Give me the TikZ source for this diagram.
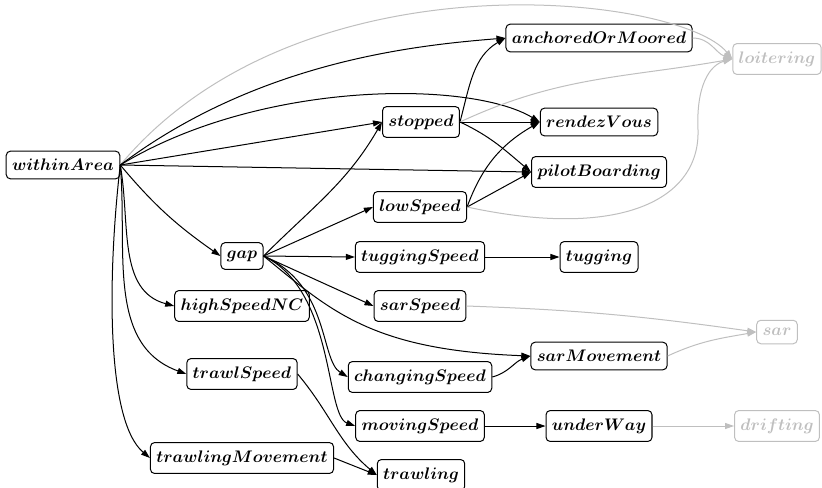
\documentclass[tikz,border=0pt]{standalone}
\usepackage{amsmath,bm}
\usetikzlibrary{arrows.meta}

\newcommand{\fl}[1]{$\bm{#1}$}

\begin{document}
\begin{tikzpicture}[
    x=0.021cm, y=-0.021cm,
    state/.style={rectangle, rounded corners=2.5pt, draw, line width=0.6pt,
        inner xsep=3.5pt, inner ysep=4.8pt, font=\normalsize},
    faded/.style={state, draw=black!25, text=black!25},
    arrow/.style={-{Triangle[length=5.4pt,width=3.6pt]}, line width=0.6pt},
    fadearrow/.style={arrow, color=black!25},
]
\useasboundingbox (0,0) rectangle (822,487);

% === Column 1 ===
\node[state] (within) at (63,165) {\fl{withinArea}};

% === Column 2 ===
\node[state] (gap) at (242,256) {\fl{gap}};
\node[state] (highNC) at (242,306) {\fl{highSpeedNC}};
\node[state] (trawlSp) at (242,374) {\fl{trawlSpeed}};
\node[state] (trawlMv) at (242,458) {\fl{trawlingMovement}};

% === Column 3 ===
\node[state] (stopped) at (421,122) {\fl{stopped}};
\node[state] (lowSp) at (420,207) {\fl{lowSpeed}};
\node[state] (tugSp) at (420,257) {\fl{tuggingSpeed}};
\node[state] (sarSp) at (420,306) {\fl{sarSpeed}};
\node[state] (changeSp) at (420,377) {\fl{changingSpeed}};
\node[state] (moveSp) at (420,426) {\fl{movingSpeed}};
\node[state] (trawling) at (421,475) {\fl{trawling}};

% === Column 4 ===
\node[state] (anchored) at (599,38) {\fl{anchoredOrMoored}};
\node[state] (rendez) at (599,122) {\fl{rendezVous}};
\node[state] (pilot) at (599,172) {\fl{pilotBoarding}};
\node[state] (tugging) at (599,257) {\fl{tugging}};
\node[state] (sarMv) at (599,356) {\fl{sarMovement}};
\node[state] (underway) at (599,426) {\fl{underWay}};

% === Column 5 (faded) ===
\node[faded] (loiter) at (777,59) {\fl{loitering}};
\node[faded] (sar) at (777,332) {\fl{sar}};
\node[faded] (drift) at (777,426) {\fl{drifting}};

% withinArea
\draw[fadearrow] (within.east) .. controls (300,-50) and (680,-5) .. (loiter.west);
\draw[arrow] (within.east) .. controls (260,60) and (420,45) .. (anchored.west);
\draw[arrow] (within.east) .. controls (260,80) and (470,80) .. (rendez.west);
\draw[arrow] (within.east) -- (stopped.west);
\draw[arrow] (within.east) -- (pilot.west);
\draw[arrow] (within.east) to[out=-50, in=145] (gap.west);
\draw[arrow] (within.east) to[out=-80, in=165] (highNC.west);
\draw[arrow] (within.east) to[out=-85, in=160] (trawlSp.west);
\draw[arrow] (within.east) .. controls (108,270) and (105,420) .. (trawlMv.west);

% gap
\draw[arrow] (gap.east) to[out=45, in=240] (stopped.west);
\draw[arrow] (gap.east) -- (lowSp.west);
\draw[arrow] (gap.east) -- (tugSp.west);
\draw[arrow] (gap.east) -- (sarSp.west);
\draw[arrow] (gap.east) .. controls (330,310) and (370,350) .. (sarMv.west);
\draw[arrow] (gap.east) .. controls (330,285) and (320,360) .. (changeSp.west);
\draw[arrow] (gap.east) .. controls (335,290) and (325,415) .. (moveSp.west);

% stopped
\draw[arrow] (stopped.east) to[out=75, in=210] (anchored.west);
\draw[fadearrow] (stopped.east) to[out=25, in=190] (loiter.west);
\draw[arrow] (stopped.east) -- (rendez.west);
\draw[arrow] (stopped.east) to[out=-25, in=140] (pilot.west);

% lowSpeed
\draw[arrow] (lowSp.east) to[out=70, in=210] (rendez.west);
\draw[arrow] (lowSp.east) -- (pilot.west);
\draw[fadearrow] (lowSp.east) .. controls (620,240) and (700,200) .. (698,130)
    .. controls (696,85) and (710,65) .. (loiter.west);

% rest
\draw[fadearrow] (anchored.east) to[out=0, in=160] (loiter.west);
\draw[arrow] (tugSp.east) -- (tugging.west);
\draw[fadearrow] (sarSp.east) to[out=-2, in=172] (sar.west);
\draw[arrow] (changeSp.east) to[out=15, in=200] (sarMv.west);
\draw[fadearrow] (sarMv.east) to[out=25, in=190] (sar.west);
\draw[arrow] (moveSp.east) -- (underway.west);
\draw[fadearrow] (underway.east) -- (drift.west);
\draw[arrow] (trawlSp.east) to[out=-50, in=140] (trawling.west);
\draw[arrow] (trawlMv.east) -- (trawling.west);

\end{tikzpicture}
\end{document}
